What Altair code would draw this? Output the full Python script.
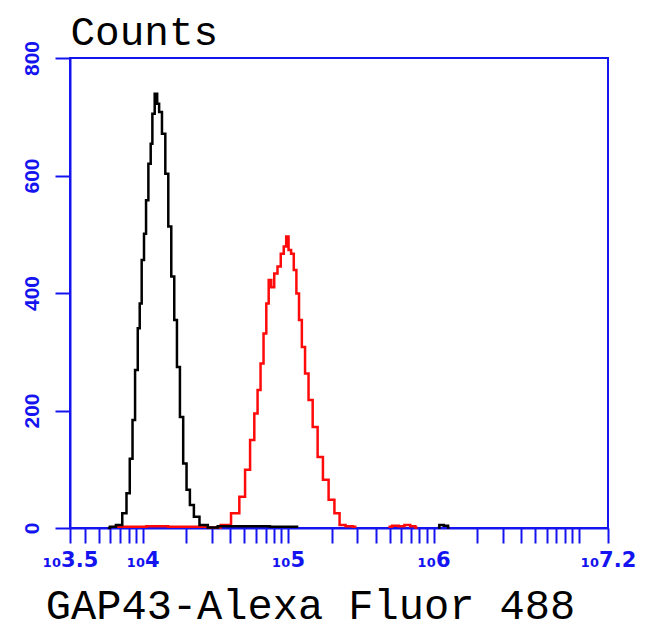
import altair as alt
import pandas as pd

# ---- data (log10 of intensity, counts) ----
black_main_log10 = [3.76, 3.79, 3.842, 3.877, 3.900, 3.922, 3.938, 3.957, 3.975, 3.984, 4.002, 4.016,
                    4.030, 4.048, 4.062, 4.071, 4.094, 4.105, 4.121, 4.144, 4.167, 4.185, 4.208,
                    4.226, 4.245, 4.267, 4.290, 4.313, 4.336, 4.368, 4.413, 4.482, 4.55, 4.65,
                    4.80, 4.95, 5.07]
black_main_counts = [0, 2, 5, 25, 59, 118, 184, 269, 340, 382, 456, 501,
                     558, 620, 654, 705, 739, 722, 708, 671, 603, 513, 428,
                     354, 274, 189, 110, 65, 39, 19, 5, 1, 3, 3,
                     3, 2, 2]
black_tail_log10 = [6.03, 6.05, 6.09, 6.11]
black_tail_counts = [1, 5, 4, 1]

red_main_log10 = [3.80, 3.95, 4.10, 4.25, 4.40, 4.50, 4.573, 4.642, 4.687, 4.721, 4.756, 4.779,
                  4.801, 4.820, 4.842, 4.858, 4.875, 4.893, 4.916, 4.938, 4.961, 4.979, 4.995,
                  5.011, 5.030, 5.048, 5.066, 5.084, 5.105, 5.128, 5.153, 5.185, 5.221, 5.258,
                  5.299, 5.338, 5.370, 5.42, 5.47]
red_main_counts = [2, 2, 3, 2, 2, 1, 5, 25, 53, 99, 150, 195,
                   235, 280, 331, 382, 422, 410, 433, 445, 467, 479, 496,
                   473, 467, 439, 399, 354, 308, 263, 218, 172, 121, 82,
                   48, 25, 5, 3, 2]
red_tail_log10 = [5.69, 5.74, 5.78, 5.82, 5.86, 5.89]
red_tail_counts = [2, 4, 3, 5, 3, 1]

series_names = ["Isotype control", "GAP43"]
series_colors = ["#000000", "#ff0a0a"]

y_ticks = [0, 200, 400, 600, 800]
x_major_labels = ["₁₀3.5", "₁₀4", "₁₀5", "₁₀6", "₁₀7.2"]

rows = []
def add(series, seg, logs, counts):
    for l, c in zip(logs, counts):
        rows.append({"series": series, "segment": seg, "intensity": 10 ** l, "counts": c})

add("GAP43", "r1", red_main_log10, red_main_counts)
add("GAP43", "r2", red_tail_log10, red_tail_counts)
add("Isotype control", "b1", black_main_log10, black_main_counts)
add("Isotype control", "b2", black_tail_log10, black_tail_counts)
df = pd.DataFrame(rows)

lo, hi = 10 ** 3.5, 10 ** 7.2
x_tick_values = [lo] + [m * 10 ** k for k in range(3, 8) for m in range(1, 10)
                        if lo < m * 10 ** k < hi] + [hi]

label_expr = (
    f"datum.value < 3200 ? '{x_major_labels[0]}' : "
    f"datum.value == 10000 ? '{x_major_labels[1]}' : "
    f"datum.value == 100000 ? '{x_major_labels[2]}' : "
    f"datum.value == 1000000 ? '{x_major_labels[3]}' : "
    f"datum.value > 15000000 ? '{x_major_labels[4]}' : ''"
)

BLUE = "#1414f0"

chart = alt.Chart(df).mark_line(interpolate="step", strokeWidth=2.5).encode(
    x=alt.X(
        "intensity:Q",
        scale=alt.Scale(type="log", domain=[lo, hi], nice=False, zero=False),
        axis=alt.Axis(
            values=x_tick_values, labelExpr=label_expr, labelOverlap=False,
            labelFlush=False, labelBound=False, grid=False,
            domainColor=BLUE, domainWidth=2, tickColor=BLUE, tickWidth=2, tickSize=15,
            labelColor=BLUE, labelFont="DejaVu Sans", labelFontSize=21, labelFontWeight="bold",
            labelPadding=6, labelAlign="center",
            title="GAP43-Alexa Fluor 488", titleFont="Liberation Mono", titleFontSize=42,
            titleFontWeight="normal", titleColor="black", titleX=240, titleY=90,
            titleAlign="center", titleBaseline="alphabetic",
        ),
    ),
    y=alt.Y(
        "counts:Q",
        scale=alt.Scale(domain=[0, 800], nice=False),
        axis=alt.Axis(
            values=y_ticks, grid=False, domainColor=BLUE, domainWidth=2,
            tickColor=BLUE, tickWidth=2, tickSize=15,
            labelColor=BLUE, labelFont="Liberation Sans", labelFontSize=21,
            labelFontWeight="bold", labelAngle=-90, labelAlign="center",
            labelBaseline="bottom", labelPadding=13,
            title="Counts", titleFont="Liberation Mono", titleFontSize=41,
            titleFontWeight="normal", titleColor="black", titleAngle=0,
            titleX=0, titleY=-14, titleAlign="left", titleBaseline="alphabetic",
        ),
    ),
    color=alt.Color("series:N", scale=alt.Scale(domain=series_names, range=series_colors),
                    legend=None),
    detail="segment:N",
).properties(
    width=538,
    height=470,
    autosize=alt.AutoSizeParams(type="none"),
    padding={"left": 62, "top": 50, "right": 34, "bottom": 104},
).configure(
    background="white"
).configure_view(
    stroke=BLUE, strokeWidth=2
)

chart.save("out.html", embed_options={"renderer": "svg", "actions": False})
